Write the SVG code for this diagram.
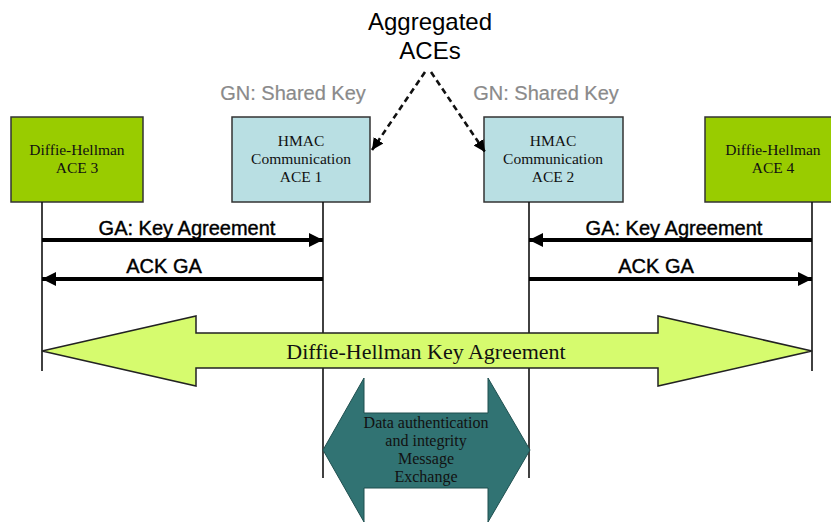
<svg xmlns="http://www.w3.org/2000/svg" width="831" height="523" viewBox="0 0 831 523">
  <style>
    .box { stroke: #333; stroke-width: 1.5; }
    .dh { fill: #99cc00; }
    .hm { fill: #b9dfe3; }
    .serif { font-family: "Liberation Serif", "Times New Roman", serif; fill: #111; text-anchor: middle; }
    .bt { font-size: 15.5px; }
    .sans { font-family: "Liberation Sans", Arial, sans-serif; text-anchor: middle; }
    .msg { font-size: 20px; fill: #000; stroke: #000; stroke-width: 0.4; }
    .gn { font-size: 20px; fill: #8a8a8a; stroke: #8a8a8a; stroke-width: 0.2; }
    .life { stroke: #111; stroke-width: 1.6; fill: none; }
    .mline { stroke: #000; stroke-width: 4; fill: none; }
    .dash { stroke: #111; stroke-width: 2.6; stroke-dasharray: 6 4; fill: none; }
  </style>
  <defs>
    <marker id="head" viewBox="0 0 10 10" refX="10" refY="5" markerWidth="3.6" markerHeight="4" markerUnits="strokeWidth" orient="auto">
      <path d="M0,0 L10,5 L0,10 z" fill="#000"/>
    </marker>
    <marker id="dhead" viewBox="0 0 10 10" refX="10" refY="5" markerWidth="4.5" markerHeight="5" markerUnits="strokeWidth" orient="auto">
      <path d="M0,0 L10,5 L0,10 z" fill="#000"/>
    </marker>
  </defs>

  <!-- title -->
  <g id="aggregated-label" class="sans" font-size="24" fill="#000">
    <text x="430" y="30">Aggregated</text>
    <text x="430" y="59">ACEs</text>
  </g>
  <text class="sans gn" x="293" y="100">GN: Shared Key</text>
  <text class="sans gn" x="546" y="100">GN: Shared Key</text>

  <!-- nodes -->
  <g id="ace3">
    <rect class="box dh" x="11" y="117" width="132" height="85"/>
    <text class="serif bt" x="77" y="155">Diffie-Hellman</text>
    <text class="serif bt" x="77" y="173">ACE 3</text>
  </g>
  <g id="ace1">
    <rect class="box hm" x="232" y="117" width="138" height="85"/>
    <text class="serif bt" x="301" y="146">HMAC</text>
    <text class="serif bt" x="301" y="164">Communication</text>
    <text class="serif bt" x="301" y="182">ACE 1</text>
  </g>
  <g id="ace2">
    <rect class="box hm" x="484" y="117" width="139" height="85"/>
    <text class="serif bt" x="553" y="146">HMAC</text>
    <text class="serif bt" x="553" y="164">Communication</text>
    <text class="serif bt" x="553" y="182">ACE 2</text>
  </g>
  <g id="ace4">
    <rect class="box dh" x="705" y="117" width="136" height="85"/>
    <text class="serif bt" x="773" y="155">Diffie-Hellman</text>
    <text class="serif bt" x="773" y="173">ACE 4</text>
  </g>

  <!-- connectors -->
  <g id="connectors">
    <!-- lifelines -->
    <line class="life" x1="42" y1="202" x2="42" y2="371"/>
    <line class="life" x1="323" y1="202" x2="323" y2="478"/>
    <line class="life" x1="529" y1="202" x2="529" y2="478"/>
    <line class="life" x1="812" y1="202" x2="812" y2="371" stroke="#444"/>

    <!-- aggregation pointers -->
    <path class="dash" d="M425,72 L372,150" marker-end="url(#dhead)"/>
    <path class="dash" d="M431,72 L485,152" marker-end="url(#dhead)"/>

    <!-- messages -->
    <line class="mline" x1="42" y1="240" x2="323" y2="240" marker-end="url(#head)"/>
    <line class="mline" x1="323" y1="279" x2="42" y2="279" marker-end="url(#head)"/>
    <line class="mline" x1="812" y1="240" x2="529" y2="240" marker-end="url(#head)"/>
    <line class="mline" x1="529" y1="279" x2="812" y2="279" marker-end="url(#head)"/>
  </g>

  <!-- message labels -->
  <g id="message-labels" class="sans msg">
    <text x="187" y="235">GA: Key Agreement</text>
    <text x="164" y="273">ACK GA</text>
    <text x="674" y="235">GA: Key Agreement</text>
    <text x="656" y="273">ACK GA</text>
  </g>

  <!-- key agreement span -->
  <g id="dh-key-agreement">
    <path d="M42,351 L196,316 L196,333 L658,333 L658,316 L812,351 L658,386 L658,368 L196,368 L196,386 Z" fill="#d6fb6e" stroke="#222" stroke-width="1.5" stroke-linejoin="miter"/>
    <text class="serif" x="426" y="359" font-size="22">Diffie-Hellman Key Agreement</text>
  </g>

  <!-- data exchange span -->
  <g id="data-exchange">
    <path d="M323,450 L364,378 L364,413 L488,413 L488,378 L530,450 L488,522 L488,488 L364,488 L364,522 Z" fill="#317373" stroke="#1f4f4f" stroke-width="1"/>
    <text class="serif" x="426" y="428" font-size="16">Data authentication</text>
    <text class="serif" x="426" y="446" font-size="16">and integrity</text>
    <text class="serif" x="426" y="464" font-size="16">Message</text>
    <text class="serif" x="426" y="482" font-size="16">Exchange</text>
  </g>
</svg>
